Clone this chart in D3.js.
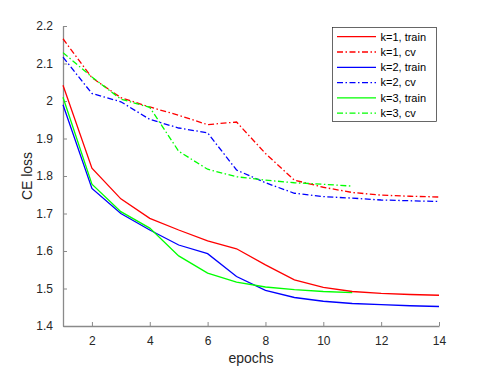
<!DOCTYPE html>
<html lang="en">
<head>
<meta charset="utf-8">
<title>CE loss vs epochs</title>
<script src="https://cdn.jsdelivr.net/npm/d3@7"></script>
<style>
  body { margin: 0; background: #fff; }
  svg { font-family: "Liberation Sans", Arial, sans-serif; }
</style>
</head>
<body>
<script>
// data
var k1Train = [2.042, 1.821, 1.739, 1.687, 1.656, 1.627, 1.606, 1.563, 1.523, 1.503, 1.492, 1.487, 1.484, 1.482];
var k1Cv    = [2.166, 2.062, 2.009, 1.984, 1.962, 1.937, 1.944, 1.860, 1.789, 1.770, 1.756, 1.749, 1.746, 1.744];
var k2Train = [1.990, 1.767, 1.700, 1.656, 1.616, 1.593, 1.532, 1.495, 1.476, 1.466, 1.460, 1.457, 1.454, 1.452];
var k2Cv    = [2.117, 2.020, 1.998, 1.951, 1.928, 1.915, 1.816, 1.782, 1.754, 1.745, 1.741, 1.736, 1.734, 1.732];
var k3Train = [2.010, 1.778, 1.705, 1.661, 1.587, 1.541, 1.517, 1.504, 1.497, 1.492, 1.489];
var k3Cv    = [2.129, 2.064, 2.005, 1.983, 1.866, 1.818, 1.798, 1.789, 1.782, 1.778, 1.773];

var xTicks = [2, 4, 6, 8, 10, 12, 14];
var yTicks = [1.4, 1.5, 1.6, 1.7, 1.8, 1.9, 2, 2.1, 2.2];

var series = [
  {name: "k=1, train", values: k1Train, color: "#ff0000", dash: null},
  {name: "k=1, cv",    values: k1Cv,    color: "#ff0000", dash: "6,2.5,1.5,2.5"},
  {name: "k=2, train", values: k2Train, color: "#0000ff", dash: null},
  {name: "k=2, cv",    values: k2Cv,    color: "#0000ff", dash: "6,2.5,1.5,2.5"},
  {name: "k=3, train", values: k3Train, color: "#00ff00", dash: null},
  {name: "k=3, cv",    values: k3Cv,    color: "#00ff00", dash: "6,2.5,1.5,2.5"}
];

var w = 485, h = 369;
var margin = {left: 63, right: 46, top: 26, bottom: 43};

var svg = d3.select("body").append("svg")
  .attr("width", w)
  .attr("height", h);

var x = d3.scaleLinear().domain([1, 14]).range([margin.left, w - margin.right]);
var y = d3.scaleLinear().domain([1.4, 2.2]).range([h - margin.bottom, margin.top]);

var axisColor = "#8a8a8a";
var textColor = "#262626";

// x axis
var gx = svg.append("g")
  .attr("transform", "translate(0," + (h - margin.bottom) + ")")
  .call(d3.axisBottom(x).tickValues(xTicks).tickSizeInner(-4).tickSizeOuter(0).tickPadding(10).tickFormat(d3.format("d")));
gx.select(".domain").attr("stroke", axisColor).attr("stroke-width", 1.3);
gx.selectAll(".tick line").attr("stroke", axisColor);
gx.selectAll(".tick text").attr("fill", textColor).attr("font-size", 12).attr("font-family", null);

// y axis
var gy = svg.append("g")
  .attr("transform", "translate(" + margin.left + ",0)")
  .call(d3.axisLeft(y).tickValues(yTicks).tickSizeInner(-4).tickSizeOuter(0).tickPadding(10).tickFormat(d3.format("~g")));
gy.select(".domain").attr("stroke", axisColor).attr("stroke-width", 1.3);
gy.selectAll(".tick line").attr("stroke", axisColor);
gy.selectAll(".tick text").attr("fill", textColor).attr("font-size", 12).attr("font-family", null);

// axis labels
svg.append("text")
  .attr("x", (margin.left + w - margin.right) / 2)
  .attr("y", 363)
  .attr("text-anchor", "middle")
  .attr("font-size", 14)
  .attr("fill", textColor)
  .text("epochs");

svg.append("text")
  .attr("transform", "translate(32," + ((margin.top + h - margin.bottom) / 2) + ") rotate(-90)")
  .attr("text-anchor", "middle")
  .attr("font-size", 14)
  .attr("fill", textColor)
  .text("CE loss");

// lines
var line = d3.line()
  .x(function(d, i) { return x(i + 1); })
  .y(function(d) { return y(d); });

svg.append("g").selectAll("path")
  .data(series)
  .enter()
  .append("path")
  .attr("d", function(d) { return line(d.values); })
  .attr("fill", "none")
  .attr("stroke", function(d) { return d.color; })
  .attr("stroke-width", 1.3)
  .attr("stroke-dasharray", function(d) { return d.dash; });

// legend
var lg = svg.append("g");
lg.append("rect")
  .attr("x", 332.5).attr("y", 27.5)
  .attr("width", 104).attr("height", 94)
  .attr("fill", "#fff")
  .attr("stroke", "#262626")
  .attr("stroke-width", 0.7);

var rows = lg.selectAll("g.row")
  .data(series)
  .enter()
  .append("g")
  .attr("class", "row")
  .attr("transform", function(d, i) { return "translate(0," + (36.7 + i * 15.3) + ")"; });

rows.append("line")
  .attr("x1", 337).attr("x2", 376)
  .attr("stroke", function(d) { return d.color; })
  .attr("stroke-width", 1.3)
  .attr("stroke-dasharray", function(d) { return d.dash; });

rows.append("text")
  .attr("x", 380.5)
  .attr("dy", "0.35em")
  .attr("font-size", 11)
  .attr("fill", "#000")
  .text(function(d) { return d.name; });
</script>
</body>
</html>
